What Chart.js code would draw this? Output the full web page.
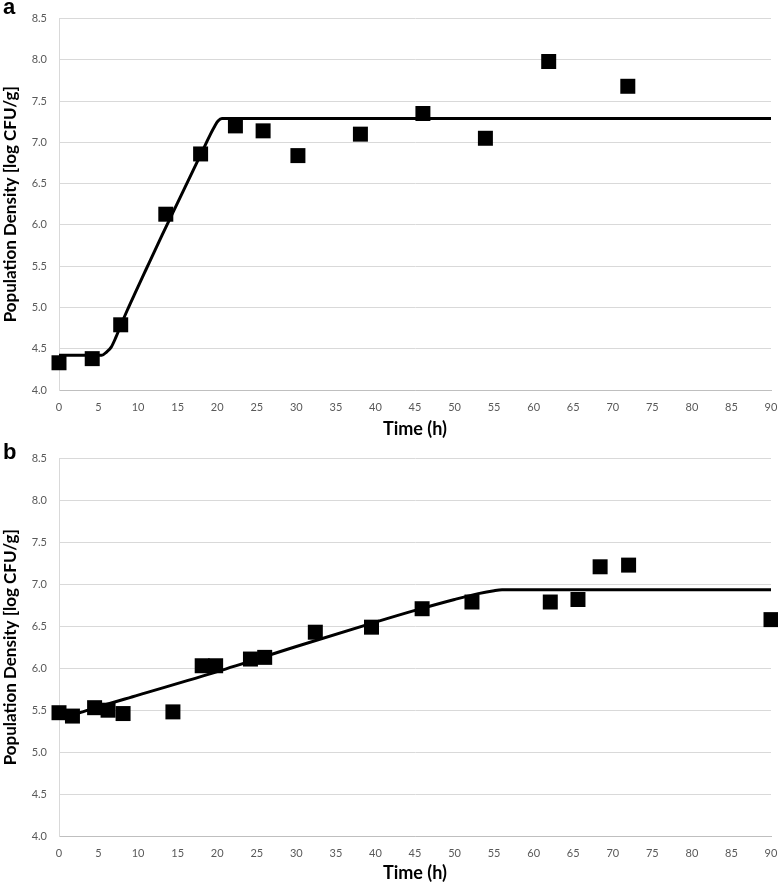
<!DOCTYPE html>
<html lang="en">
<head>
    <meta charset="UTF-8">
    <title>Population Density</title>
    <style>
        body { margin: 0; background: #fff; overflow: hidden; }
        .panel { position: absolute; left: 0; width: 778px; }
        #boxA { top: 0; height: 440px; }
        #boxB { top: 440px; height: 444px; }
        .tag {
            position: absolute;
            left: 3px;
            font-family: 'Liberation Sans', Arial, sans-serif;
            font-weight: bold;
            font-size: 22px;
            line-height: 1;
            color: #000;
        }
    </style>
</head>
<body>

    <div class="panel" id="boxA"><canvas id="chartA"></canvas></div>
    <div class="panel" id="boxB"><canvas id="chartB"></canvas></div>
    <div class="tag" style="top: -4px;">a</div>
    <div class="tag" style="top: 441px;">b</div>

    <script src="https://cdn.jsdelivr.net/npm/chart.js"></script>

    <script>
        // panel a: measured points
        const timeA = [0, 4.2, 7.8, 13.5, 17.9, 22.3, 25.8, 30.2, 38.1, 46.0, 53.9, 61.9, 71.9];
        const countA = [4.33, 4.38, 4.79, 6.13, 6.86, 7.20, 7.14, 6.84, 7.10, 7.35, 7.05, 7.98, 7.68];
        // panel a: fitted curve
        const fitTimeA = [0, 5.4, 6.0, 6.6, 7.2, 7.8, 8.6, 9.5, 11, 13, 15, 17, 18.5, 19.2, 19.7, 20.1, 20.6, 90];
        const fitCountA = [4.42, 4.42, 4.46, 4.52, 4.64, 4.78, 4.96, 5.15, 5.46, 5.87, 6.27, 6.67, 6.97, 7.11, 7.20, 7.26, 7.29, 7.29];

        // panel b: measured points
        const timeB = [0, 1.7, 4.5, 6.2, 8.1, 14.4, 18.1, 19.8, 24.2, 26.0, 32.4, 39.5, 45.9, 52.2, 62.1, 65.6, 68.4, 72.0, 90];
        const countB = [5.47, 5.43, 5.53, 5.50, 5.46, 5.48, 6.03, 6.03, 6.11, 6.13, 6.43, 6.49, 6.71, 6.79, 6.79, 6.82, 7.21, 7.23, 6.58];
        // panel b: fitted curve
        const fitTimeB = [0, 1.5, 3, 5, 10, 20, 30, 40, 45, 50, 53, 55, 56, 90];
        const fitCountB = [5.42, 5.44, 5.48, 5.54, 5.68, 5.96, 6.26, 6.55, 6.69, 6.82, 6.89, 6.925, 6.935, 6.935];

        // axis ticks
        const yTicks = [4.0, 4.5, 5.0, 5.5, 6.0, 6.5, 7.0, 7.5, 8.0, 8.5];
        const xTicks = [0, 5, 10, 15, 20, 25, 30, 35, 40, 45, 50, 55, 60, 65, 70, 75, 80, 85, 90];

        const toXY = (xs, ys) => xs.map((x, i) => ({ x: x, y: ys[i] }));

        function makeChart(id, pts, fit, padTop, xHeight) {
            return new Chart(document.getElementById(id), {
                type: 'scatter',
                data: {
                    datasets: [{
                        label: 'Observed',
                        data: pts,
                        pointStyle: 'rect',
                        pointRadius: 10.6,
                        pointHoverRadius: 10.6,
                        backgroundColor: '#000',
                        borderWidth: 0,
                        clip: false,
                        order: 1
                    }, {
                        label: 'Model',
                        data: fit,
                        showLine: true,
                        pointRadius: 0,
                        borderColor: '#000',
                        borderWidth: 3,
                        cubicInterpolationMode: 'monotone',
                        order: 2
                    }]
                },
                options: {
                    responsive: true,
                    maintainAspectRatio: false,
                    animation: false,
                    layout: { autoPadding: false, padding: { left: 0, right: 7, top: padTop, bottom: 0 } },
                    plugins: { legend: { display: false }, tooltip: { enabled: false } },
                    scales: {
                        x: {
                            type: 'linear',
                            min: 0,
                            max: 90,
                            afterBuildTicks: s => { s.ticks = xTicks.map(v => ({ value: v })); },
                            afterFit: s => { s.height = xHeight; s.paddingRight = 0; },
                            // tick marks hidden, tickLength only spaces the labels
                            grid: { display: false, drawTicks: true, tickLength: 11 },
                            border: { display: true, color: '#bfbfbf', width: 1 },
                            ticks: {
                                padding: 0,
                                color: '#595959',
                                font: { family: 'Lato', size: 11 },
                                maxRotation: 0,
                                autoSkip: false
                            },
                            title: {
                                display: true,
                                text: 'Time (h)',
                                color: '#000',
                                font: { family: 'Lato', size: 18, weight: 'bold' },
                                padding: { top: 0, bottom: 0 }
                            }
                        },
                        y: {
                            min: 4,
                            max: 8.5,
                            afterBuildTicks: s => { s.ticks = yTicks.map(v => ({ value: v })); },
                            afterFit: s => { s.width = 59; },
                            grid: { color: '#d9d9d9', lineWidth: 1, drawTicks: false },
                            border: { display: true, color: '#d9d9d9', width: 1 },
                            ticks: {
                                padding: 12,
                                color: '#595959',
                                font: { family: 'Lato', size: 11 },
                                callback: v => v.toFixed(1)
                            },
                            title: {
                                display: true,
                                text: 'Population Density [log CFU/g]',
                                color: '#000',
                                font: { family: 'Lato', size: 17, weight: 'bold' },
                                padding: { top: 0, bottom: 0 }
                            }
                        }
                    }
                }
            });
        }

        makeChart('chartA', toXY(timeA, countA), toXY(fitTimeA, fitCountA), 12, 50);
        makeChart('chartB', toXY(timeB, countB), toXY(fitTimeB, fitCountB), 18, 48);
    </script>

</body>
</html>
